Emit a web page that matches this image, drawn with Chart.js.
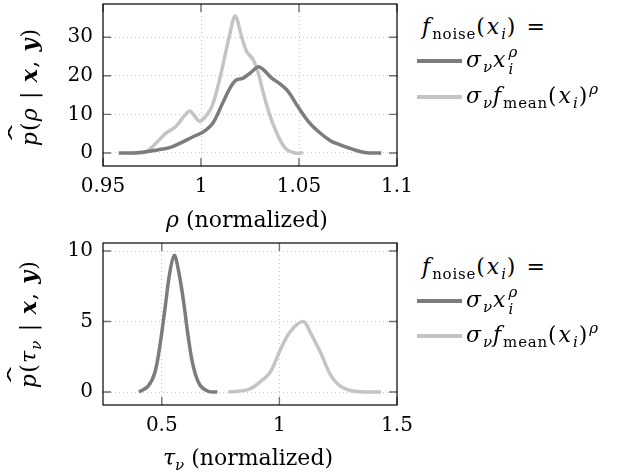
<!DOCTYPE html>
<html>
<head>
<meta charset="utf-8">
<script src="https://cdn.jsdelivr.net/npm/chart.js@4/dist/chart.umd.min.js"></script>
<style>
  body { margin: 0; background: #fff; }
  #page { position: relative; width: 623px; height: 474px; overflow: hidden; font-family: "DejaVu Serif", serif; color: #000; }
  .plot { position: absolute; left: 0; width: 420px; height: 236px; }
  .txt { position: absolute; white-space: nowrap; font-size: 22px; line-height: 28px; }
  .leg { letter-spacing: 2px; }
  .leg .lo { letter-spacing: 0.8px; }
  .ytitle { position: absolute; white-space: nowrap; font-size: 22px; line-height: 28px; letter-spacing: 1.2px; transform: translate(-50%, -50%) rotate(-90deg); }
  .xtitle { transform: translate(-50%, -50%); }
  i { font-style: italic; }
  .bi { font-weight: bold; font-style: italic; }
  .lo { position: relative; top: 5px; font-size: 15px; }
  .hi { position: relative; top: -9px; font-size: 15px; }
  .ss { display: inline-block; position: relative; width: 10px; height: 0; }
  .ss .a { position: absolute; left: 1px; bottom: 7px; font-size: 15px; line-height: 15px; font-style: italic; }
  .ss .b { position: absolute; left: 1px; top: -5px; font-size: 15px; line-height: 15px; font-style: italic; }
  .hat { position: relative; display: inline-block; }
  .hat .h { position: absolute; left: 1px; top: -11px; font-style: normal; transform: scale(2.3, 1); transform-origin: left top; }
  .key { position: absolute; left: 417px; width: 45px; height: 3.5px; }
</style>
</head>
<body>
<div id="page">
  <div class="plot" style="top:0"><canvas id="rhoChart" width="420" height="236"></canvas></div>
  <div class="plot" style="top:239px"><canvas id="tauChart" width="420" height="236"></canvas></div>

  <!-- axis titles -->
  <div class="ytitle" style="left:29px; top:87px"><span class="hat"><i>p</i><span class="h">ˆ</span></span>(<i>ρ</i> | <span class="bi">x</span>, <span class="bi">y</span>)</div>
  <div class="ytitle" style="left:29px; top:324px"><span class="hat"><i>p</i><span class="h">ˆ</span></span>(<i>τ</i><span class="lo"><i>ν</i></span> | <span class="bi">x</span>, <span class="bi">y</span>)</div>
  <div class="txt xtitle" style="left:247px; top:220px"><i>ρ</i> (normalized)</div>
  <div class="txt xtitle" style="left:248px; top:459px"><i>τ</i><span class="lo"><i>ν</i></span> (normalized)</div>

  <!-- legends -->
  <div class="txt leg" style="left:422px; top:13px"><i>f</i><span class="lo">noise</span>(<i>x</i><span class="lo"><i>i</i></span>) =</div>
  <div class="key" style="top:59px; background:#7c7c7c"></div>
  <div class="txt leg" style="left:466px; top:46px"><i>σ</i><span class="lo"><i>ν</i></span><i>x</i><span class="ss"><span class="a">ρ</span><span class="b">i</span></span></div>
  <div class="key" style="top:95px; background:#c4c4c4"></div>
  <div class="txt leg" style="left:466px; top:82px"><i>σ</i><span class="lo"><i>ν</i></span><i>f</i><span class="lo">mean</span>(<i>x</i><span class="lo"><i>i</i></span>)<span class="hi"><i>ρ</i></span></div>

  <div class="txt leg" style="left:422px; top:253px"><i>f</i><span class="lo">noise</span>(<i>x</i><span class="lo"><i>i</i></span>) =</div>
  <div class="key" style="top:299px; background:#7c7c7c"></div>
  <div class="txt leg" style="left:466px; top:286px"><i>σ</i><span class="lo"><i>ν</i></span><i>x</i><span class="ss"><span class="a">ρ</span><span class="b">i</span></span></div>
  <div class="key" style="top:334px; background:#c4c4c4"></div>
  <div class="txt leg" style="left:466px; top:321px"><i>σ</i><span class="lo"><i>ν</i></span><i>f</i><span class="lo">mean</span>(<i>x</i><span class="lo"><i>i</i></span>)<span class="hi"><i>ρ</i></span></div>
</div>

<script>
// posterior of rho, noise model sigma * x^rho
var rhoX_power = [0.958, 0.966, 0.972, 0.978, 0.984, 0.990, 0.996, 1.001, 1.006, 1.011, 1.015, 1.018, 1.0216, 1.025, 1.0292, 1.0318, 1.0361, 1.0403, 1.0445, 1.0488, 1.0547, 1.060, 1.066, 1.071, 1.076, 1.081, 1.086, 1.092];
var rhoY_power = [0, 0, 0.3, 0.8, 1.4, 2.7, 4.2, 5.4, 7.7, 12.9, 17.0, 18.9, 19.4, 20.7, 22.3, 21.6, 19.4, 17.9, 15.9, 12.5, 8.2, 5.5, 3.2, 2.1, 1.2, 0.4, 0, 0];
// posterior of rho, noise model sigma * f_mean(x)^rho
var rhoX_mean = [0.966, 0.972, 0.977, 0.982, 0.987, 0.9918, 0.9944, 0.997, 0.9995, 1.0046, 1.0077, 1.011, 1.0148, 1.0175, 1.0208, 1.0233, 1.0267, 1.0292, 1.0318, 1.0343, 1.0369, 1.0403, 1.0437, 1.048, 1.052];
var rhoY_mean = [0, 0.3, 2.5, 5.1, 6.8, 9.8, 10.9, 9.4, 8.2, 11.1, 15.5, 22.4, 31, 35.5, 30, 26.3, 24.1, 20.7, 15.5, 11.1, 7.3, 3.4, 0.9, 0, 0];

// posterior of tau_nu for both noise models
var tauX_power = [0.403, 0.441, 0.470, 0.4915, 0.513, 0.534, 0.553, 0.570, 0.591, 0.612, 0.634, 0.662, 0.698, 0.736];
var tauY_power = [0, 0.4, 1.35, 3.25, 5.86, 8.47, 9.7, 8.7, 6.6, 3.96, 1.8, 0.5, 0.05, 0];
var tauX_mean = [0.783, 0.869, 0.919, 0.962, 1.004, 1.047, 1.101, 1.132, 1.175, 1.218, 1.261, 1.318, 1.432];
var tauY_mean = [0, 0.19, 0.73, 1.44, 3.0, 4.3, 5.0, 4.2, 2.8, 1.2, 0.4, 0.05, 0];

var darkGray = '#7c7c7c';
var lightGray = '#c4c4c4';
var tickFont = { family: "'DejaVu Serif', serif", size: 20 };

function pairs(xs, ys) {
  var out = [];
  for (var i = 0; i < xs.length; i++) out.push({ x: xs[i], y: ys[i] });
  return out;
}

function series(xs, ys, color) {
  return {
    data: pairs(xs, ys),
    borderColor: color,
    borderWidth: 3.5,
    pointRadius: 0,
    tension: 0.35,
    fill: false,
    borderJoinStyle: 'round'
  };
}

// plain number labels: 1 instead of 1.00
function plainLabel(v) {
  return String(Math.round(v * 1000) / 1000);
}

// frame plus short inward tick marks on all four sides
var framePlugin = {
  id: 'frame',
  beforeDatasetsDraw: function(chart) {
    var ctx = chart.ctx, a = chart.chartArea, len = 8;
    ctx.save();
    ctx.strokeStyle = '#707070';
    ctx.lineWidth = 1.4;
    ctx.beginPath();
    chart.scales.x.ticks.forEach(function(t) {
      var px = chart.scales.x.getPixelForValue(t.value);
      ctx.moveTo(px, a.bottom); ctx.lineTo(px, a.bottom - len);
      ctx.moveTo(px, a.top); ctx.lineTo(px, a.top + len);
    });
    chart.scales.y.ticks.forEach(function(t) {
      var py = chart.scales.y.getPixelForValue(t.value);
      ctx.moveTo(a.left, py); ctx.lineTo(a.left + len, py);
      ctx.moveTo(a.right, py); ctx.lineTo(a.right - len, py);
    });
    ctx.stroke();
    ctx.restore();
  },
  afterDraw: function(chart) {
    var ctx = chart.ctx, a = chart.chartArea;
    ctx.save();
    ctx.strokeStyle = '#000';
    ctx.lineWidth = 1.2;
    ctx.strokeRect(a.left, a.top, a.right - a.left, a.bottom - a.top);
    ctx.restore();
  }
};

function makeChart(id, sets, xr, yr) {
  return new Chart(document.getElementById(id), {
    type: 'line',
    data: { datasets: sets },
    plugins: [framePlugin],
    options: {
      responsive: false,
      animation: false,
      devicePixelRatio: 1,
      layout: { padding: { top: 4, right: 23, left: 0, bottom: 0 } },
      plugins: { legend: { display: false }, tooltip: { enabled: false } },
      scales: {
        x: {
          type: 'linear', min: xr[0], max: xr[1],
          ticks: { stepSize: xr[2], includeBounds: false, font: tickFont, color: '#000', padding: 9, maxRotation: 0, callback: plainLabel },
          grid: { color: '#c8c8c8', lineWidth: 1, drawTicks: false },
          border: { display: false, dash: [1, 3] },
          afterFit: function(s) { s.height = 70; s.paddingLeft = 0; s.paddingRight = 0; }
        },
        y: {
          type: 'linear', min: yr[0], max: yr[1],
          ticks: { stepSize: yr[2], includeBounds: false, font: tickFont, color: '#000', padding: 10, callback: plainLabel },
          grid: { color: '#c8c8c8', lineWidth: 1, drawTicks: false },
          border: { display: false, dash: [1, 3] },
          afterFit: function(s) { s.width = 103; s.paddingTop = 0; s.paddingBottom = 0; }
        }
      }
    }
  });
}

makeChart('rhoChart',
  [series(rhoX_power, rhoY_power, darkGray), series(rhoX_mean, rhoY_mean, lightGray)],
  [0.95, 1.1, 0.05], [-3.37, 38.6, 10]);

makeChart('tauChart',
  [series(tauX_power, tauY_power, darkGray), series(tauX_mean, tauY_mean, lightGray)],
  [0.25, 1.5, 0.5], [-0.92, 10.57, 5]);
</script>
</body>
</html>
